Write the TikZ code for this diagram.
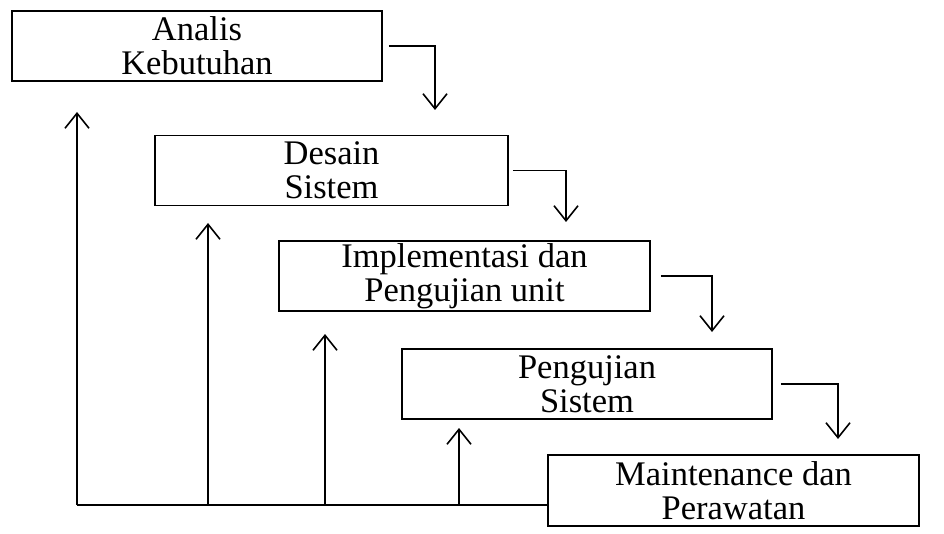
\documentclass[tikz,border=0pt]{standalone}
\usepackage{fontspec}
\setmainfont{Liberation Serif}
\usepackage{tikz}
\usetikzlibrary{arrows.meta}

\begin{document}
\begin{tikzpicture}[x=1pt, y=-1pt,
    box/.style={draw, line width=1.6pt, minimum width=370pt, minimum height=70pt,
        align=center, inner sep=0pt, font=\fontsize{34.5}{34}\selectfont},
    flow/.style={line width=1.6pt, -{Straight Barb[length=15pt, width=24pt, line width=1.6pt]}},
    line/.style={line width=1.6pt}]

\useasboundingbox[fill=white] (0,0) rectangle (944,534);

% Tahapan

\node[box] (analis) at (197,46) {Analis\\Kebutuhan};

\node[box, minimum width=353pt] (desain) at (331.5,170.5) {Desain\\Sistem};

\node[box, minimum width=371pt] (implementasi) at (464.5,276) {Implementasi dan\\Pengujian unit};

\node[box] (pengujian) at (587,384) {Pengujian\\Sistem};

\node[box, minimum width=371pt, minimum height=71pt] (maintenance) at (733.5,490.5) {Maintenance dan\\Perawatan};

% Aliran ke bawah

\coordinate (t1) at (435,110);
\coordinate (t2) at (566,222);
\coordinate (t3) at (712,332);
\coordinate (t4) at (838,439);

\draw[flow] ([xshift=6pt]analis.east) -| (t1);
\draw[flow] ([xshift=4pt]desain.east) -| (t2);
\draw[flow] ([xshift=10pt]implementasi.east) -| (t3);
\draw[flow] ([xshift=8pt]pengujian.east) -| (t4);

% Umpan balik

\coordinate (f0) at (77,505);
\coordinate (f1) at (208,505);
\coordinate (f2) at (325,505);
\coordinate (f3) at (459,505);

\draw[line] (f0) -- (f0 -| maintenance.west);

\draw[flow] (f0) -- (77,112);
\draw[flow] (f1) -- (208,223);
\draw[flow] (f2) -- (325,334);
\draw[flow] (f3) -- (459,428);

\end{tikzpicture}
\end{document}
